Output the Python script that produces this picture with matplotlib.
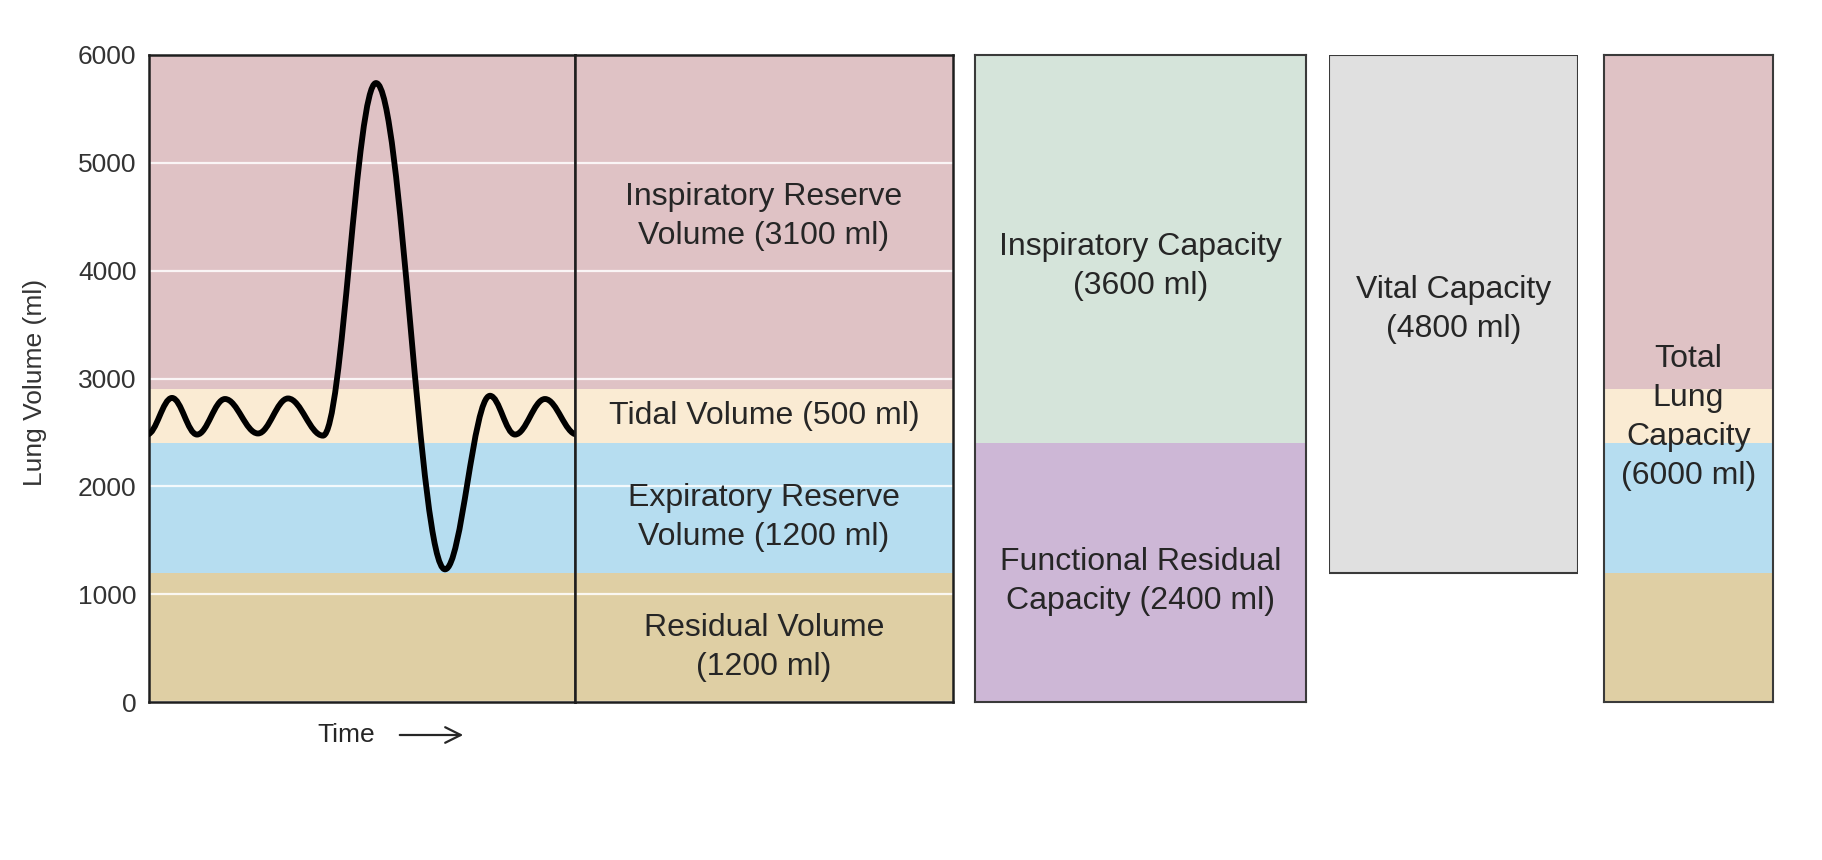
import numpy as np
import matplotlib
matplotlib.use("Agg")
import matplotlib.pyplot as plt
from matplotlib.path import Path
from matplotlib.patches import PathPatch

plt.rcParams['font.family'] = ['Liberation Sans', 'DejaVu Sans']

# lung volumes, bottom to top (ml)
volume_keys = ["rv", "erv", "tv", "irv"]
volume_ml = [1200, 1200, 500, 3100]
volume_colors = ["#dfcfa4", "#b6ddf0", "#faebd3", "#dfc2c5"]

# capacities (ml)
ic_ml = 3600
frc_ml = 2400
vc_ml = 4800
tlc_ml = 6000

# spirogram trace: extremes (time units, ml)
trace_t = [-2, 23, 48, 76, 109, 139, 174, 227, 296, 341, 366, 396, 428]
trace_ml = [2480, 2820, 2480, 2810, 2490, 2815, 2470, 5740, 1230, 2840, 2480, 2810, 2480]

yticks = [0, 1000, 2000, 3000, 4000, 5000, 6000]

W, H = 1822, 860
fig = plt.figure(figsize=(W / 100, H / 100), dpi=100)

def box(x0, x1, y0=55, y1=702):
    return [x0 / W, 1 - y1 / H, (x1 - x0) / W, (y1 - y0) / H]

ax1 = fig.add_axes(box(149, 575))
ax2 = fig.add_axes(box(575, 953))
ax3 = fig.add_axes(box(975, 1306))
ax4 = fig.add_axes(box(1329, 1578))
ax5 = fig.add_axes(box(1604, 1773))

txt = '#262626'
edge = '#3a3a3a'
bottoms = np.concatenate([[0], np.cumsum(volume_ml)[:-1]])

for ax in (ax1, ax2):
    for b, v, c in zip(bottoms, volume_ml, volume_colors):
        ax.axhspan(b, b + v, color=c, lw=0)
    ax.set_yticks(yticks)
    ax.yaxis.grid(True, color='white', lw=1.6, alpha=0.85)
    for s in ax.spines.values():
        s.set_color('#1e1e1e')
        s.set_linewidth(1.8)

for ax in (ax1, ax2, ax3, ax4, ax5):
    ax.set_ylim(0, tlc_ml)
    ax.set_xticks([])
    ax.tick_params(length=0)

ax1.set_xlim(0, 426)
ax1.set_yticklabels([str(t) for t in yticks], fontsize=19, color='#333333')
ax1.tick_params(axis='y', pad=9)
ax2.set_xlim(0, 1)
ax2.tick_params(labelleft=False)

# smooth trace through the extremes (horizontal tangent at each)
verts = [(trace_t[0], trace_ml[0])]
codes = [Path.MOVETO]
for i in range(1, len(trace_t)):
    x0, y0 = trace_t[i - 1], trace_ml[i - 1]
    x1, y1 = trace_t[i], trace_ml[i]
    dx = x1 - x0
    verts += [(x0 + 0.37 * dx, y0), (x1 - 0.37 * dx, y1), (x1, y1)]
    codes += [Path.CURVE4] * 3
ax1.add_patch(PathPatch(Path(verts, codes), fill=False, lw=4.2, color='black',
                        zorder=3, capstyle='butt', joinstyle='round'))

rv, erv, tv, irv = volume_ml
fs = 23
ls = 1.38
ax2.text(0.5, 4500, f"Inspiratory Reserve\nVolume ({irv} ml)", ha='center', va='center', fontsize=fs, color=txt, linespacing=ls)
ax2.text(0.5, 2650, f"Tidal Volume ({tv} ml)", ha='center', va='center', fontsize=fs, color=txt)
ax2.text(0.5, 1710, f"Expiratory Reserve\nVolume ({erv} ml)", ha='center', va='center', fontsize=fs, color=txt, linespacing=ls)
ax2.text(0.5, 505, f"Residual Volume\n({rv} ml)", ha='center', va='center', fontsize=fs, color=txt, linespacing=ls)

# inspiratory capacity / functional residual capacity
ax3.bar(0.5, frc_ml, width=1, bottom=0, color='#cdb7d6', lw=0)
ax3.bar(0.5, ic_ml, width=1, bottom=frc_ml, color='#d5e4da', lw=0)
ax3.set_xlim(0, 1)
ax3.set_yticks([])
for s in ax3.spines.values():
    s.set_color(edge)
    s.set_linewidth(1.5)
ax3.text(0.5, 4040, f"Inspiratory Capacity\n({ic_ml} ml)", ha='center', va='center', fontsize=fs, color=txt, linespacing=ls)
ax3.text(0.5, 1120, f"Functional Residual\nCapacity ({frc_ml} ml)", ha='center', va='center', fontsize=fs, color=txt, linespacing=ls)

# vital capacity
ax4.bar(0.5, vc_ml, width=1, bottom=tlc_ml - vc_ml, color='#e0e0e0', edgecolor=edge, lw=1.5)
ax4.set_xlim(0, 1)
ax4.set_yticks([])
for s in ax4.spines.values():
    s.set_visible(False)
ax4.text(0.5, 3640, f"Vital Capacity\n({vc_ml} ml)", ha='center', va='center', fontsize=fs, color=txt, linespacing=ls)

# total lung capacity
ax5.bar([0.5] * 4, volume_ml, width=1, bottom=bottoms, color=volume_colors, lw=0)
ax5.set_xlim(0, 1)
ax5.set_yticks([])
for s in ax5.spines.values():
    s.set_color(edge)
    s.set_linewidth(1.5)
ax5.text(0.5, 2640, f"Total\nLung\nCapacity\n({tlc_ml} ml)", ha='center', va='center', fontsize=fs,
         color=txt, linespacing=1.4)

fig.text(35 / W, 1 - 382 / H, "Lung Volume (ml)", rotation=90, ha='center', va='center',
         fontsize=19, color='#333333')
fig.text(346 / W, 1 - 735 / H, "Time", ha='center', va='center', fontsize=19, color=txt)
fig.add_artist(matplotlib.patches.FancyArrowPatch((397 / W, 1 - 735 / H), (466 / W, 1 - 735 / H),
                                                  transform=fig.transFigure, arrowstyle='->',
                                                  mutation_scale=28, lw=1.6, color=txt))

fig.savefig('out.png', dpi=100, facecolor='white')
